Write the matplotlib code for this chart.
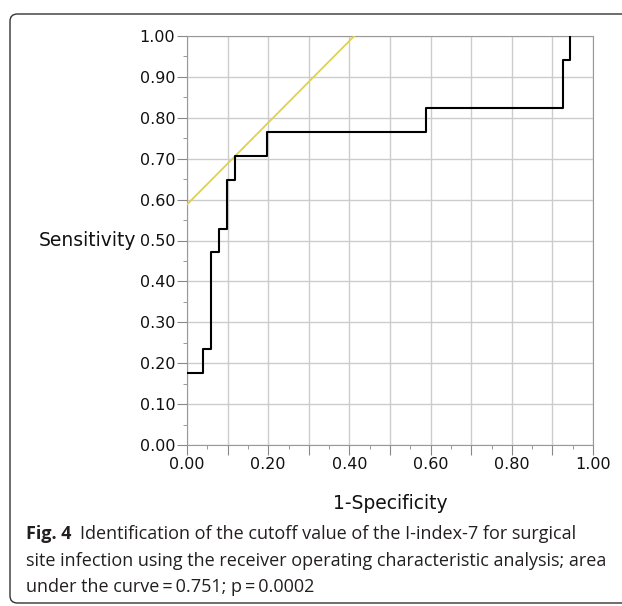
import matplotlib
matplotlib.use('Agg')
import matplotlib.pyplot as plt
from matplotlib.patches import FancyBboxPatch
from matplotlib.ticker import MultipleLocator

plt.rcParams['font.family'] = ['DejaVu Sans']

# ROC curve (step points, 1-specificity vs sensitivity)
fpr = [0.0, 0.039, 0.059, 0.078, 0.098, 0.118, 0.196, 0.588, 0.925, 0.943]
tpr = [0.176, 0.235, 0.471, 0.529, 0.647, 0.706, 0.765, 0.824, 0.941, 1.0]

# tangent line at the cutoff point
tan_x = [0.0, 0.412]
tan_y = [0.588, 1.0]

ticks = [0.0, 0.1, 0.2, 0.3, 0.4, 0.5, 0.6, 0.7, 0.8, 0.9, 1.0]
xtick_labels = ['0.00', '', '0.20', '', '0.40', '', '0.60', '', '0.80', '', '1.00']
ytick_labels = ['%.2f' % t for t in ticks]

W, H = 622, 606
fig = plt.figure(figsize=(W / 100, H / 100), dpi=100)

# rounded frame round the figure and caption
frame = FancyBboxPatch((10 / W, 3 / H), 640 / W, (H - 17) / H,
                       boxstyle='round,pad=0,rounding_size=0.012',
                       transform=fig.transFigure, fill=False,
                       edgecolor='#333333', linewidth=1.0)
fig.patches.append(frame)

ax = fig.add_axes([187 / W, 161 / H, 406 / W, 409 / H])
ax.plot(tan_x, tan_y, color='#e0d24c', lw=1.3, zorder=3)
ax.plot(fpr, tpr, drawstyle='steps-post', color='black', lw=1.5, zorder=4)

ax.set_xlim(0, 1)
ax.set_ylim(0, 1)
ax.set_xticks(ticks)
ax.set_xticklabels(xtick_labels)
ax.set_yticks(ticks)
ax.set_yticklabels(ytick_labels)
ax.xaxis.set_minor_locator(MultipleLocator(0.05))
ax.yaxis.set_minor_locator(MultipleLocator(0.05))
ax.tick_params(which='major', length=7, color='#888888', labelsize=11.5,
               pad=1.5, labelcolor='#111111')
ax.tick_params(which='minor', length=3, color='#888888')
ax.grid(True, which='major', color='#cccccc', lw=1.0)
for s in ax.spines.values():
    s.set_color('#999999')

ax.set_xlabel('1-Specificity', fontsize=13.5, color='#111111')
ax.xaxis.set_label_coords(0.5, -0.142)
ax.xaxis.label.set_va('center')
ax.set_ylabel('Sensitivity', fontsize=13.5, rotation=0, ha='right',
              va='center', color='#111111')
ax.yaxis.set_label_coords(-0.125, 0.5)

# caption
cap = ['Identification of the cutoff value of the I-index-7 for surgical',
       'site infection using the receiver operating characteristic analysis; area',
       'under the curve\u2009=\u20090.751; p\u2009=\u20090.0002']
cap_font = ['Open Sans', 'DejaVu Sans']
cap_size = 13
t = fig.text(26 / W, 1 - 534 / H, 'Fig. 4', fontsize=cap_size, fontweight='bold',
             family=cap_font, va='center', color='#231f20')
fig.canvas.draw()
bb = t.get_window_extent()
fig.text((bb.x1 + 9) / W, 1 - 534 / H, cap[0], fontsize=cap_size, family=cap_font,
         va='center', color='#231f20')
fig.text(26 / W, 1 - 561 / H, cap[1], fontsize=cap_size, family=cap_font,
         va='center', color='#231f20')
fig.text(26 / W, 1 - 587 / H, cap[2], fontsize=cap_size, family=cap_font,
         va='center', color='#231f20')

fig.savefig('out.png', dpi=100)
